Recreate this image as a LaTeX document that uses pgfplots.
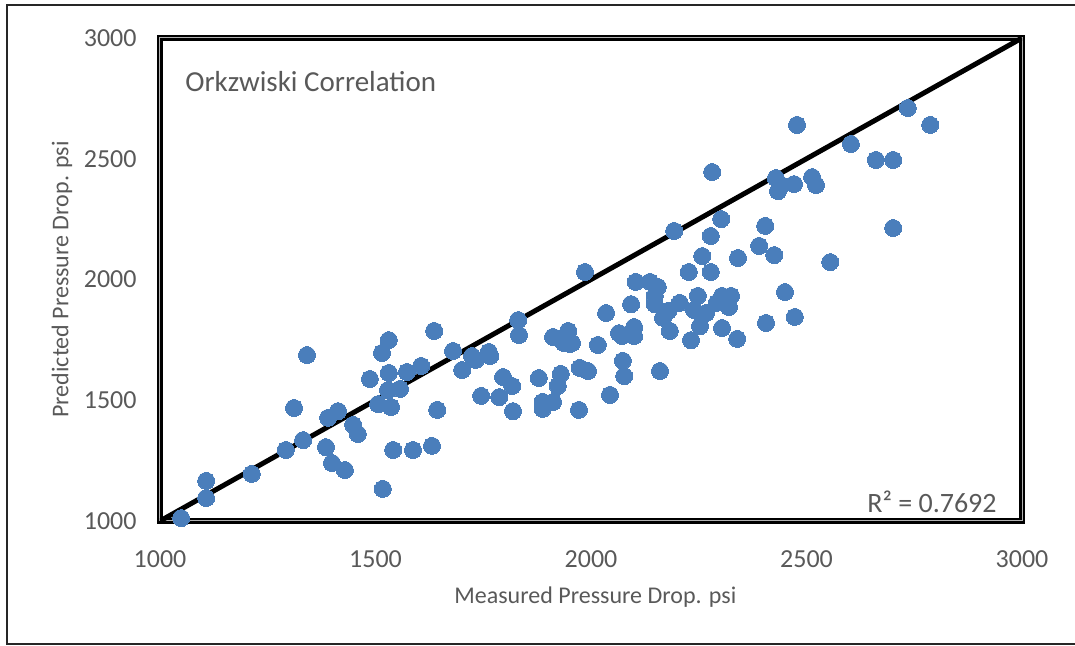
\documentclass[border=0pt]{standalone}
\usepackage{pgfplots}
\pgfplotsset{compat=1.18}
\usepackage{fontspec}
\setmainfont{Carlito}
\definecolor{ptblue}{HTML}{4A7EBB}
\definecolor{txtgrey}{HTML}{595959}
\begin{document}
\begin{tikzpicture}
\begin{axis}[
  at={(0,0)}, anchor=south west,
  scale only axis, width=431pt, height=241.5pt,
  xmin=1000, xmax=3000, ymin=1000, ymax=3000,
  xtick={1000,1500,2000,2500,3000},
  ytick={1000,1500,2000,2500,3000},
  major tick length=0pt,
  axis line style={draw=black, double=gray!60, double distance=0.5pt, line width=1.1pt},
  /pgf/number format/assume math mode=true,
  /pgf/number format/set thousands separator={},
  tick label style={font=\fontsize{13}{15}\selectfont, text=txtgrey},
  yticklabel style={anchor=east, inner sep=0pt, xshift=-11.5pt},
  xticklabel style={anchor=north, inner sep=0pt, yshift=-14.5pt},
  xlabel={Measured Pressure Drop. psi},
  ylabel={Predicted Pressure Drop. psi},
  label style={font=\fontsize{12}{14}\selectfont, text=txtgrey},
  xlabel style={at={(axis description cs:0.505,-0.157)}, anchor=center},
  ylabel style={at={(axis description cs:-0.1137,0.5)}, anchor=center},
]
\addplot[only marks, color=ptblue, mark=*, mark size=4.25pt, mark options={draw=ptblue, fill=ptblue, line width=0pt}] table {
x y
1049 1012
1107 1095
1107 1166
1213 1195
1292 1294
1311 1468
1341 1687
1332 1335
1385 1306
1399 1240
1429 1211
1390 1427
1413 1455
1448 1398
1459 1360
1487 1588
1515 1696
1531 1749
1506 1484
1531 1613
1529 1542
1536 1472
1541 1294
1517 1133
1557 1547
1573 1617
1587 1294
1606 1642
1631 1311
1636 1787
1643 1460
1680 1704
1701 1625
1724 1683
1733 1667
1763 1700
1766 1683
1745 1518
1787 1513
1796 1596
1817 1559
1819 1455
1831 1832
1833 1770
1879 1592
1888 1493
1888 1464
1912 1762
1912 1493
1923 1559
1930 1609
1937 1737
1947 1787
1951 1733
1956 1737
1972 1460
1974 1634
1986 2031
1993 1621
2016 1729
2035 1861
2044 1522
2065 1778
2072 1766
2074 1663
2077 1600
2093 1898
2100 1803
2100 1766
2104 1990
2137 1990
2148 1932
2148 1898
2155 1969
2160 1621
2167 1841
2179 1870
2183 1787
2193 2201
2206 1903
2227 2031
2232 1749
2239 1874
2248 1932
2253 1807
2258 1853
2258 2097
2267 1861
2278 2031
2278 2180
2281 2445
2292 1903
2302 2250
2304 1932
2304 1799
2320 1886
2325 1932
2339 1754
2341 2089
2390 2139
2404 2222
2406 1820
2425 2101
2429 2420
2434 2366
2441 2391
2450 1948
2471 2395
2473 1845
2478 2640
2513 2424
2522 2391
2555 2072
2603 2561
2661 2495
2701 2495
2701 2213
2735 2710
2787 2640
};
\addplot[black, line width=2.5pt, no marks] coordinates {(1000,1000) (3000,3000)};
\node[anchor=west, inner sep=0pt, text=txtgrey, font=\fontsize{14.5}{16}\selectfont] at (axis description cs:0.029,0.909) {Orkzwiski Correlation};
\node[anchor=east, inner sep=0pt, text=txtgrey, font=\fontsize{14}{16}\selectfont] at (axis description cs:0.971,0.039) {R² = 0.7692};
\end{axis}
\draw[line width=1pt, black!85] (470pt,258pt) -- (-76.5pt,258pt) -- (-76.5pt,-61.5pt) -- (470pt,-61.5pt);
\pgfresetboundingbox
\useasboundingbox (-80pt,-62.5pt) rectangle (457.5pt,260.5pt);
\end{tikzpicture}
\end{document}
